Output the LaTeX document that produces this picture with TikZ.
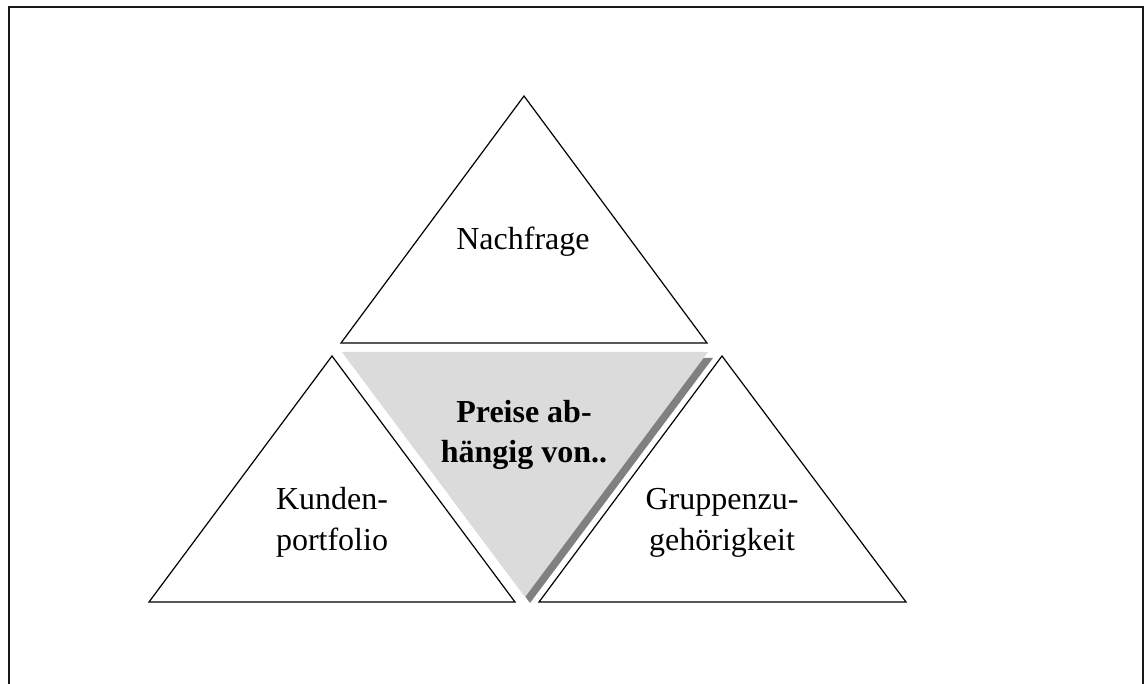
\documentclass[tikz,border=0pt]{standalone}
\usepackage{fontspec}
\setmainfont{Liberation Serif}
\begin{document}
\begin{tikzpicture}[x=1pt,y=-1pt,
  tri/.style={draw=black,line width=1.2pt,fill=white,line join=miter},
  label/.style={inner sep=0pt,align=center,anchor=base,
    font=\fontsize{32}{41}\selectfont},
  frameline/.style={draw=black!90,line width=2pt}]
  \useasboundingbox (0,0) rectangle (1148,684);
  % open frame (bottom edge lies outside the page)
  \draw[frameline] (9,684) -- (9,7) -- (1143,7) -- (1143,684);
  % upper triangle
  \draw[tri] (341,343) -- (524,96) -- (707,343) -- cycle;
  % lower left and lower right triangles
  \draw[tri] (149,602) -- (332,356) -- (515,602) -- cycle;
  \draw[tri] (539,602) -- (722,356) -- (906,602) -- cycle;
  % shaded centre triangle with its drop shadow
  \fill[black!50] (347,358) -- (713,358) -- (530,603) -- cycle;
  \fill[black!14] (342,352) -- (708,352) -- (525,597) -- cycle;
  % texts (base anchor sits on the last line)
  \node[label] (nachfrage) at (523,250) {Nachfrage};
  \node[label,font=\fontsize{32}{40}\selectfont\bfseries] (preise) at (524,462) {Preise ab-\\hängig von..};
  \node[label] (kunden) at (332,550) {Kunden-\\portfolio};
  \node[label] (gruppe) at (722,550) {Gruppenzu-\\gehörigkeit};
\end{tikzpicture}
\end{document}
